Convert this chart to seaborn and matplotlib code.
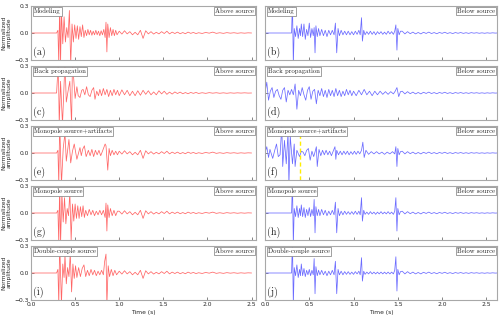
import seaborn as sns
import matplotlib.pyplot as plt

# ---- left column ("Above source"), times in s, amplitudes normalized ----
t_a = [0.0, 0.29, 0.305, 0.315, 0.325, 0.335, 0.345, 0.36, 0.375, 0.39, 0.405, 0.42, 0.435, 0.45, 0.465, 0.48,
       0.495, 0.51, 0.525, 0.54, 0.555, 0.57, 0.585, 0.60, 0.615, 0.63, 0.645, 0.66, 0.675, 0.69, 0.705, 0.72,
       0.735, 0.75, 0.765, 0.78, 0.795, 0.81, 0.825, 0.84, 0.85, 0.86, 0.87, 0.885, 0.90, 0.915, 0.93, 0.945,
       0.96, 0.975]
amp_a = [0, 0, 0.03, -0.35, 0.35, -0.35, 0.25, -0.12, 0.18, -0.1, 0.06, -0.05, 0.25, -0.35, 0.1, -0.1,
         0.09, -0.06, 0.08, -0.07, 0.07, -0.04, 0.09, -0.05, 0.03, -0.03, 0.04, -0.02, 0.03, -0.025, 0.02, -0.02,
         0.03, -0.02, 0.02, -0.03, 0.025, -0.02, 0.04, -0.05, 0.12, -0.21, 0.1, -0.05, 0.06, -0.03, 0.04, -0.03,
         0.03, -0.02]

t_c = [0.0, 0.29, 0.31, 0.32, 0.335, 0.357, 0.385, 0.40, 0.425, 0.44, 0.46, 0.47, 0.50, 0.52, 0.535, 0.555,
       0.575, 0.59, 0.61, 0.63, 0.65, 0.67, 0.69, 0.71, 0.725, 0.745, 0.765, 0.78, 0.80, 0.82, 0.84, 0.86,
       0.88, 0.90, 0.92, 0.94, 0.96, 0.98]
amp_c = [0, 0, 0.35, -0.35, 0.13, -0.35, 0.35, -0.1, 0.05, 0.13, -0.35, 0.35, -0.06, 0.07, -0.03, -0.05,
         0.03, 0.04, -0.02, 0.07, -0.02, -0.04, 0.03, 0.06, -0.07, 0.02, -0.03, 0.04, -0.03, 0.05, -0.02, 0.04,
         -0.04, 0.03, -0.03, 0.04, -0.02, 0.03]

t_e = [0.0, 0.29, 0.305, 0.315, 0.325, 0.345, 0.365, 0.385, 0.40, 0.43, 0.45, 0.47, 0.49, 0.52, 0.555, 0.57,
       0.585, 0.605, 0.625, 0.65, 0.67, 0.69, 0.71, 0.73, 0.75, 0.77, 0.79, 0.81, 0.84, 0.85, 0.87, 0.885,
       0.90, 0.92, 0.94, 0.96, 0.98]
amp_e = [0, 0, 0.03, -0.35, 0.35, -0.35, 0.05, 0.22, -0.09, 0.15, -0.11, 0.02, 0.1, -0.07, 0.06, -0.03,
         0.04, 0.08, -0.04, 0.03, -0.03, 0.04, -0.04, 0.03, -0.02, 0.03, -0.03, 0.02, 0.1, 0.08, -0.19, 0.05,
         -0.03, 0.03, -0.02, 0.02, -0.02]

t_g = [0.0, 0.29, 0.305, 0.315, 0.325, 0.335, 0.35, 0.365, 0.38, 0.395, 0.41, 0.425, 0.44, 0.455, 0.47, 0.485,
       0.50, 0.515, 0.53, 0.545, 0.56, 0.575, 0.59, 0.605, 0.62, 0.64, 0.66, 0.68, 0.70, 0.72, 0.74, 0.76,
       0.78, 0.80, 0.82, 0.84, 0.85, 0.86, 0.87, 0.885, 0.90, 0.92, 0.94, 0.96, 0.98]
amp_g = [0, 0, 0.03, -0.35, 0.35, -0.35, 0.22, -0.1, 0.17, -0.12, 0.05, -0.03, 0.23, -0.3, 0.1, -0.09,
         0.1, -0.06, 0.08, -0.06, 0.07, -0.04, 0.08, -0.05, 0.03, -0.03, 0.04, -0.02, 0.03, -0.03, 0.02, -0.02,
         0.03, -0.02, 0.03, -0.05, 0.11, -0.2, 0.09, -0.05, 0.05, -0.03, 0.03, -0.03, 0.02]

t_i = [0.0, 0.29, 0.305, 0.315, 0.325, 0.345, 0.36, 0.375, 0.385, 0.40, 0.415, 0.43, 0.445, 0.46, 0.475, 0.49,
       0.505, 0.52, 0.54, 0.56, 0.58, 0.60, 0.62, 0.64, 0.66, 0.68, 0.70, 0.72, 0.74, 0.76, 0.78, 0.80,
       0.82, 0.835, 0.85, 0.86, 0.875, 0.89, 0.91, 0.93, 0.95, 0.97]
amp_i = [0, 0, 0.04, -0.35, 0.35, -0.35, 0.1, -0.05, 0.2, -0.12, 0.06, -0.04, 0.22, -0.21, 0.1, -0.06,
         0.08, -0.05, 0.06, -0.04, 0.05, 0.09, -0.04, 0.03, -0.03, 0.04, -0.02, 0.03, -0.03, 0.02, -0.02, 0.03,
         -0.02, 0.13, 0.21, -0.35, 0.08, -0.04, 0.04, -0.03, 0.03, -0.02]

# coda after 1 s, left column
tail_t_left = [1.00, 1.03, 1.06, 1.09, 1.12, 1.15, 1.18, 1.21, 1.24, 1.27, 1.30, 1.33, 1.36, 1.39, 1.42, 1.45,
               1.48, 1.51, 1.54, 1.57, 1.60, 1.63, 1.66, 1.69, 1.72, 1.75, 1.78, 1.81, 1.84, 1.87, 1.90, 1.94,
               1.98, 2.02, 2.06, 2.10, 2.14, 2.18, 2.22, 2.26, 2.30, 2.34, 2.38, 2.42, 2.46, 2.50]
tail_amp_left = [0.02, -0.012, 0.025, -0.01, 0.015, -0.02, 0.008, -0.02, 0.03, -0.06, 0.025, -0.01, 0.015, -0.012,
                 0.008, -0.01, 0.015, -0.006, 0.02, -0.01, 0.01, -0.006, 0.01, -0.008, 0.005, -0.008, 0.01, -0.004,
                 0.006, -0.006, 0.003, -0.005, 0.006, -0.002, 0.01, -0.004, 0.003, -0.004, 0.004, -0.002, 0.003,
                 -0.003, 0.002, -0.002, 0.002, 0.0]
tail_amp_c = [-0.03, 0.035, -0.02, 0.03, -0.03, 0.02, -0.03, 0.025, -0.025, 0.03, -0.015, 0.025, -0.02, 0.012,
              -0.02, 0.025, -0.01, 0.02, -0.015, 0.01, -0.012, 0.012, -0.006, 0.01, -0.008, 0.005, -0.008, 0.006,
              -0.004, 0.006, -0.005, 0.003, -0.004, 0.004, -0.002, 0.003, -0.003, 0.002, -0.003, 0.002, -0.002,
              0.002, -0.001, 0.002, -0.001, 0.0]

# ---- right column ("Below source") ----
t_right = [0.0, 0.30, 0.31, 0.32, 0.33, 0.345, 0.36, 0.375, 0.39, 0.40, 0.41, 0.425, 0.44, 0.455, 0.47, 0.485,
           0.50, 0.515, 0.53, 0.545, 0.555, 0.565, 0.575, 0.59, 0.605, 0.62, 0.64, 0.66, 0.68, 0.70, 0.72, 0.74,
           0.76, 0.78, 0.795, 0.81, 0.825, 0.84, 0.86, 0.88, 0.90, 0.92, 0.94, 0.96, 0.98, 1.00, 1.02, 1.04,
           1.06, 1.075, 1.09, 1.10, 1.115, 1.13, 1.15, 1.17, 1.19, 1.21, 1.23, 1.25, 1.27, 1.29, 1.31, 1.33,
           1.35, 1.37, 1.39, 1.41, 1.43, 1.45, 1.465, 1.478, 1.49, 1.50, 1.515, 1.53]
amp_b = [0, 0, 0.35, -0.35, 0.05, -0.04, 0.08, -0.06, 0.05, -0.03, 0.1, -0.04, 0.1, -0.07, 0.04, -0.03,
         0.11, -0.05, 0.05, -0.03, 0.06, -0.22, 0.08, -0.04, 0.05, -0.03, 0.04, -0.03, 0.03, -0.04, 0.03, -0.02,
         0.03, -0.02, 0.11, -0.22, 0.05, -0.03, 0.03, -0.02, 0.02, -0.02, 0.02, -0.02, 0.015, -0.02, 0.02, -0.015,
         0.03, -0.02, 0.17, -0.09, 0.03, -0.02, 0.015, -0.015, 0.02, -0.015, 0.015, -0.02, 0.015, -0.01, 0.015,
         -0.015, 0.01, -0.015, 0.02, -0.01, 0.015, -0.015, 0.02, 0.09, -0.19, 0.05, -0.02, 0.02]
amp_h = [0, 0, 0.35, -0.35, 0.05, -0.04, 0.08, -0.05, 0.05, -0.03, 0.09, -0.04, 0.06, -0.05, 0.04, -0.03,
         0.06, -0.04, 0.04, -0.03, 0.15, -0.22, 0.07, -0.03, 0.04, -0.03, 0.04, -0.02, 0.03, -0.03, 0.02, -0.02,
         0.03, -0.02, 0.12, -0.22, 0.05, -0.03, 0.02, -0.02, 0.02, -0.015, 0.015, -0.015, 0.015, -0.015, 0.02,
         -0.015, 0.02, -0.02, 0.17, -0.09, 0.03, -0.015, 0.01, -0.015, 0.015, -0.01, 0.01, -0.015, 0.01, -0.01,
         0.015, -0.01, 0.01, -0.01, 0.015, -0.01, 0.01, -0.015, 0.02, 0.17, -0.2, 0.05, -0.02, 0.015]
amp_j = [0, 0, 0.35, -0.35, 0.06, -0.03, 0.09, -0.05, 0.04, -0.03, 0.1, -0.03, 0.05, -0.04, 0.03, -0.02,
         0.04, -0.03, 0.03, -0.02, 0.16, -0.23, 0.07, -0.03, 0.03, -0.02, 0.03, -0.02, 0.02, -0.03, 0.02, -0.02,
         0.03, -0.02, 0.13, -0.23, 0.04, -0.02, 0.02, -0.02, 0.015, -0.015, 0.015, -0.015, 0.01, -0.015, 0.015,
         -0.01, 0.02, -0.02, 0.17, -0.09, 0.02, -0.015, 0.01, -0.01, 0.015, -0.01, 0.01, -0.01, 0.01, -0.01,
         0.01, -0.01, 0.01, -0.01, 0.01, -0.01, 0.01, -0.01, 0.03, 0.18, -0.2, 0.04, -0.02, 0.015]

t_d = [0.0, 0.02, 0.04, 0.06, 0.08, 0.10, 0.12, 0.14, 0.16, 0.18, 0.20, 0.22, 0.24, 0.26, 0.28, 0.30,
       0.32, 0.34, 0.36, 0.38, 0.40, 0.42, 0.44, 0.46, 0.48, 0.50, 0.52, 0.54, 0.56, 0.58, 0.60, 0.62,
       0.64, 0.66, 0.68, 0.70, 0.72, 0.74, 0.76, 0.78, 0.80, 0.82, 0.84, 0.86, 0.88, 0.90, 0.92, 0.94,
       0.96, 0.98, 1.00, 1.03, 1.06, 1.09, 1.12, 1.15, 1.18, 1.21, 1.24, 1.27, 1.30, 1.33, 1.36, 1.39,
       1.42, 1.45, 1.47, 1.49, 1.51, 1.53]
amp_d = [0, 0.12, -0.08, 0.02, 0.06, -0.05, 0.02, 0.04, -0.03, -0.07, 0.03, 0.06, -0.1, 0.03, -0.02, 0.04,
         -0.02, 0.1, -0.18, 0.03, -0.03, 0.06, -0.02, -0.08, 0.03, 0.07, -0.07, 0.02, 0.04, -0.12, 0.03, -0.03,
         0.05, -0.04, 0.03, -0.05, 0.04, -0.03, 0.03, -0.04, 0.05, -0.03, 0.03, -0.04, 0.02, -0.03, 0.04, -0.02,
         0.03, -0.03, 0.02, -0.03, 0.03, -0.02, 0.04, -0.02, 0.02, -0.03, 0.02, -0.02, 0.02, -0.015, 0.015,
         -0.015, 0.015, -0.01, 0.02, 0.06, -0.04, 0.015]

t_f = [0.0, 0.02, 0.04, 0.056, 0.087, 0.11, 0.13, 0.15, 0.17, 0.19, 0.20, 0.22, 0.24, 0.26, 0.27, 0.285,
       0.31, 0.33, 0.34, 0.36, 0.39, 0.41, 0.43, 0.45, 0.47, 0.49, 0.51, 0.53, 0.55, 0.57, 0.58, 0.59,
       0.61, 0.63, 0.65, 0.67, 0.69, 0.71, 0.73, 0.75, 0.77, 0.79, 0.80, 0.81, 0.83, 0.85, 0.87, 0.89,
       0.91, 0.93, 0.95, 0.97, 0.99, 1.01, 1.03, 1.05, 1.07, 1.09, 1.105, 1.12, 1.14, 1.17, 1.20, 1.23,
       1.26, 1.29, 1.32, 1.35, 1.38, 1.41, 1.44, 1.465, 1.478, 1.49, 1.50, 1.515, 1.53]
amp_f = [0, 0.07, -0.05, 0.04, -0.06, 0.03, 0.1, -0.04, -0.02, 0.3, -0.15, 0.14, -0.12, 0.23, -0.35, 0.19,
         -0.12, 0.1, -0.15, 0.03, -0.04, 0.02, 0.01, -0.03, 0.03, 0.05, -0.08, 0.02, -0.04, 0.03, 0.07, -0.15,
         0.04, -0.03, 0.03, -0.02, 0.03, -0.02, 0.02, -0.03, 0.02, 0.07, -0.07, 0.03, -0.02, 0.02, -0.02, 0.02,
         -0.015, 0.02, -0.02, 0.015, -0.015, 0.02, -0.015, 0.02, -0.01, 0.03, 0.12, -0.05, 0.03, -0.015, 0.015,
         -0.01, 0.015, -0.01, 0.01, -0.015, 0.01, -0.01, 0.015, -0.01, 0.07, -0.15, 0.05, -0.02, 0.015]
artifact_t = 0.40

tail_t_right = [1.55, 1.58, 1.61, 1.64, 1.67, 1.70, 1.73, 1.76, 1.79, 1.82, 1.85, 1.88, 1.91, 1.94, 1.97, 2.00,
                2.03, 2.06, 2.09, 2.12, 2.15, 2.18, 2.21, 2.24, 2.27, 2.30, 2.33, 2.36, 2.39, 2.42, 2.45, 2.48,
                2.51, 2.54, 2.57, 2.60, 2.62]
tail_amp_right = [0.02, -0.01, 0.015, -0.008, 0.01, -0.01, 0.006, -0.01, 0.008, -0.005, 0.01, -0.006, 0.005,
                  -0.008, 0.006, -0.004, 0.008, -0.005, 0.004, -0.006, 0.005, -0.003, 0.005, -0.004, 0.003,
                  -0.004, 0.004, -0.002, 0.003, -0.003, 0.002, -0.003, 0.002, -0.002, 0.002, -0.001, 0.0]

titles = ["Modeling", "Back propagation", "Monopole source+artifacts", "Monopole source", "Double-couple source"]
letters_left = ["(a)", "(c)", "(e)", "(g)", "(i)"]
letters_right = ["(b)", "(d)", "(f)", "(h)", "(j)"]

left_traces = [(t_a + tail_t_left, amp_a + tail_amp_left),
               (t_c + tail_t_left, amp_c + tail_amp_c),
               (t_e + tail_t_left, amp_e + tail_amp_left),
               (t_g + tail_t_left, amp_g + tail_amp_left),
               (t_i + tail_t_left, amp_i + tail_amp_left)]
right_traces = [(t_right + tail_t_right, amp_b + tail_amp_right),
                (t_d + tail_t_right, amp_d + tail_amp_right),
                (t_f + tail_t_right, amp_f + tail_amp_right),
                (t_right + tail_t_right, amp_h + tail_amp_right),
                (t_right + tail_t_right, amp_j + tail_amp_right)]
for tt, aa in left_traces + right_traces:
    assert len(tt) == len(aa), (len(tt), len(aa))

sns.set_style("ticks")
plt.rcParams["font.family"] = ["DejaVu Sans"]
plt.rcParams["axes.unicode_minus"] = False

W, H = 500, 318
fig = plt.figure(figsize=(W / 100, H / 100), dpi=100)

red = (1.0, 0.4, 0.4)
blue = (0.42, 0.42, 1.0)
frame = "#a8a8a8"
serif = "cmr10"
box = dict(boxstyle="square,pad=0.18", fc="white", ec="#909090", lw=0.6)

for row in range(5):
    bottom = (H - (60 + 60 * row)) / H
    height = 54 / H
    axL = fig.add_axes([31 / W, bottom, 225 / W, height])
    axR = fig.add_axes([265 / W, bottom, 232 / W, height])
    for col, ax in enumerate([axL, axR]):
        if col == 0:
            tt, aa = left_traces[row]
            color, side, letter, xmax = red, "Above source", letters_left[row], 2.55
        else:
            tt, aa = right_traces[row]
            color, side, letter, xmax = blue, "Below source", letters_right[row], 2.62
        sns.lineplot(x=tt, y=aa, ax=ax, color=color, linewidth=0.55)
        if col == 1 and row == 2:
            ax.axvline(artifact_t, color="#ffee00", lw=1.0, ls=(0, (3, 2)))
        ax.set_xlim(0, xmax)
        ax.set_ylim(-0.3, 0.3)
        ax.set_xticks([0.0, 0.5, 1.0, 1.5, 2.0, 2.5])
        ax.set_yticks([-0.3, 0.0, 0.3])
        ax.tick_params(direction="in", length=2, width=0.5, color="#555555", labelsize=4.3, pad=1.5)
        for sp in ax.spines.values():
            sp.set_color(frame)
            sp.set_linewidth(0.8)
        if col == 0:
            ax.set_yticklabels(["\u22120.3", "0.0", "0.3"])
            ax.set_ylabel("Normalized\namplitude", fontsize=4.3, labelpad=2)
        else:
            ax.set_yticklabels([])
        if row == 4:
            ax.set_xticklabels(["0.0", "0.5", "1.0", "1.5", "2.0", "2.5"])
            ax.set_xlabel("Time (s)", fontsize=4.3, labelpad=2)
        else:
            ax.set_xticklabels([])
        ax.text(0.012, 0.955, titles[row], transform=ax.transAxes, fontsize=4.8, family=serif,
                ha="left", va="top", bbox=box)
        ax.text(0.992, 0.955, side, transform=ax.transAxes, fontsize=4.8, family=serif,
                ha="right", va="top", bbox=box)
        ax.text(0.01, 0.04, letter, transform=ax.transAxes, fontsize=7.2, family=serif,
                ha="left", va="bottom")

fig.savefig("out.png", dpi=100)
